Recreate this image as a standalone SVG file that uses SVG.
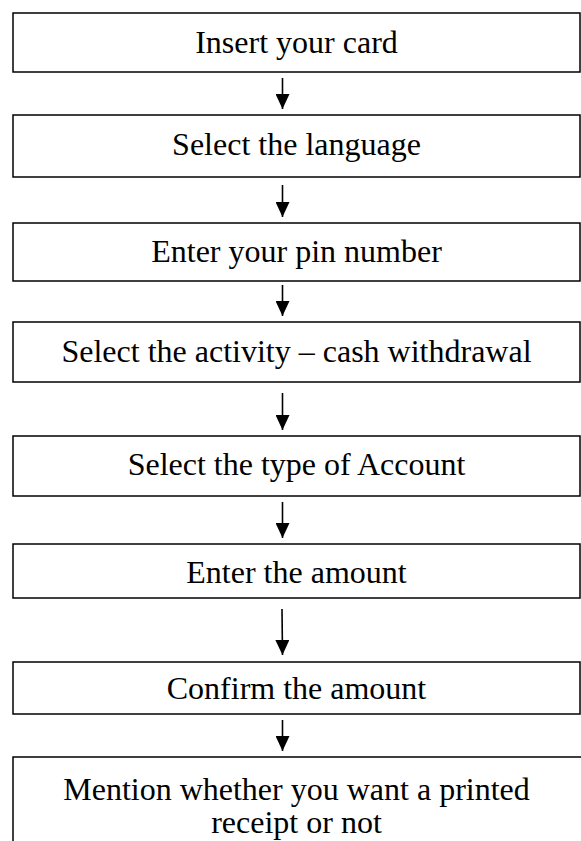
<svg xmlns="http://www.w3.org/2000/svg" width="581" height="841" viewBox="0 0 581 841">
<defs>
<style>
.box{fill:#fff;stroke:#000;stroke-width:1.5}
.t{font-family:"Liberation Serif","Times New Roman",serif;font-size:32px;fill:#000;text-anchor:middle}
.c{stroke:#000;stroke-width:1.6;fill:none}
</style>
<marker id="a" markerWidth="15" markerHeight="14" refX="15" refY="7" orient="auto" markerUnits="userSpaceOnUse" viewBox="0 0 15 14">
<path d="M0,0 L15,7 L0,14 Z" fill="#000"/>
</marker>
</defs>
<rect width="581" height="841" fill="#fff"/>
<g id="n1"><rect class="box" x="13" y="13" width="567" height="59"/><text class="t" x="296.5" y="53">Insert your card</text></g>
<g id="n2"><rect class="box" x="13" y="115" width="567" height="62"/><text class="t" x="296.5" y="155">Select the language</text></g>
<g id="n3"><rect class="box" x="13" y="223" width="567" height="58"/><text class="t" x="296.5" y="262">Enter your pin number</text></g>
<g id="n4"><rect class="box" x="13" y="322" width="567" height="60"/><text class="t" x="296.5" y="362">Select the activity – cash withdrawal</text></g>
<g id="n5"><rect class="box" x="13" y="436" width="567" height="60"/><text class="t" x="296.5" y="475">Select the type of Account</text></g>
<g id="n6"><rect class="box" x="13" y="544" width="567" height="54"/><text class="t" x="296.5" y="583">Enter the amount</text></g>
<g id="n7"><rect class="box" x="13" y="662" width="567" height="52"/><text class="t" x="296.5" y="699">Confirm the amount</text></g>
<g id="n8"><rect class="box" x="13" y="757" width="590" height="120"/><text class="t" x="296.5" y="800">Mention whether you want a printed</text><text class="t" x="296.5" y="833">receipt or not</text></g>
<g id="connectors">
<line class="c" x1="282.5" y1="78" x2="282.5" y2="109" marker-end="url(#a)"/>
<line class="c" x1="282.5" y1="185" x2="282.5" y2="217" marker-end="url(#a)"/>
<line class="c" x1="282.5" y1="285" x2="282.5" y2="316" marker-end="url(#a)"/>
<line class="c" x1="282.5" y1="393" x2="282.5" y2="430" marker-end="url(#a)"/>
<line class="c" x1="282.5" y1="502" x2="282.5" y2="538" marker-end="url(#a)"/>
<line class="c" x1="282" y1="609" x2="282.5" y2="655" marker-end="url(#a)"/>
<line class="c" x1="282.5" y1="720" x2="282.5" y2="751" marker-end="url(#a)"/>
</g>
</svg>
